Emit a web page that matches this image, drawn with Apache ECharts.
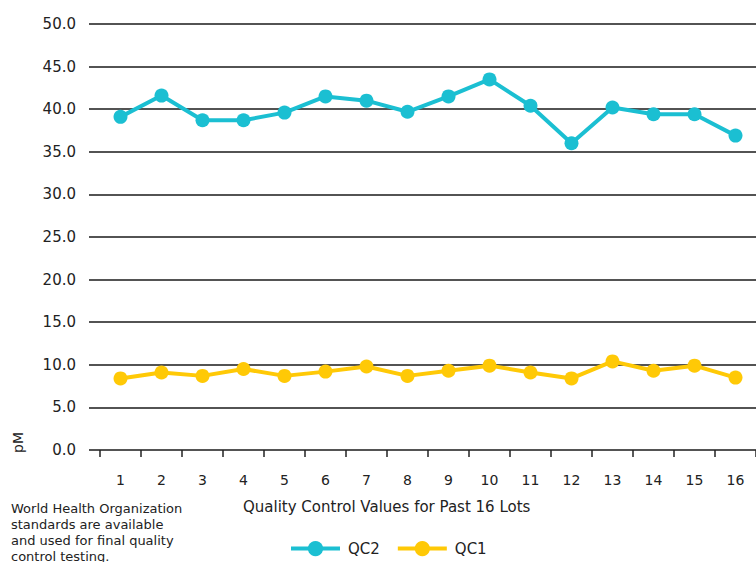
<!DOCTYPE html>
<html>
<head>
<meta charset="utf-8">
<script src="https://cdn.jsdelivr.net/npm/echarts@6/dist/echarts.min.js"></script>
<style>
  html, body { margin: 0; padding: 0; background: #fff; }
  #chart { width: 756px; height: 562px; }
</style>
</head>
<body>
<div id="chart"></div>
<script>
const lots = ['1', '2', '3', '4', '5', '6', '7', '8', '9', '10', '11', '12', '13', '14', '15', '16']
const qc2 = [39.1, 41.6, 38.7, 38.7, 39.6, 41.5, 41.0, 39.7, 41.5, 43.5, 40.4, 36.0, 40.2, 39.4, 39.4, 36.9]
const qc1 = [8.4, 9.1, 8.7, 9.5, 8.7, 9.2, 9.8, 8.7, 9.3, 9.9, 9.1, 8.4, 10.4, 9.3, 9.9, 8.5]
const yTicks = [0, 5, 10, 15, 20, 25, 30, 35, 40, 45, 50]

const font = 'DejaVu Sans'
const textColor = '#222'
const colors = { qc2: '#1bbfd2', qc1: '#ffc906' }

const chart = echarts.init(document.getElementById('chart'), null, { renderer: 'svg' })

chart.setOption({
  backgroundColor: '#fff',
  animation: false,
  textStyle: { fontFamily: font },
  grid: [
    { left: 89, right: 0, top: 24, height: 426 },
    { left: 100, width: 660, top: 24, height: 426 }
  ],
  xAxis: [
    { type: 'category', gridIndex: 0, data: lots, show: false },
    {
      type: 'category',
      gridIndex: 1,
      data: lots,
      boundaryGap: true,
      axisLine: { show: false },
      axisTick: { show: true, interval: 0, length: 7, lineStyle: { color: textColor, width: 1.5 } },
      axisLabel: { interval: 0, margin: 23, color: textColor, fontSize: 14, fontFamily: font }
    }
  ],
  yAxis: [
    {
      type: 'value',
      gridIndex: 0,
      min: yTicks[0],
      max: yTicks[yTicks.length - 1],
      interval: 5,
      axisLine: { show: false },
      axisTick: { show: false },
      axisLabel: {
        margin: 13,
        color: textColor,
        fontSize: 15,
        fontFamily: font,
        padding: [0, 0, 4, 0],
        formatter: (v) => v.toFixed(1)
      },
      splitLine: { lineStyle: { color: '#1a1a1a', width: 1.5 } }
    },
    {
      type: 'value',
      gridIndex: 1,
      min: yTicks[0],
      max: yTicks[yTicks.length - 1],
      interval: 5,
      show: false,
      splitLine: { show: false }
    }
  ],
  legend: {
    left: 289,
    top: 541,
    padding: 0,
    itemWidth: 49,
    itemHeight: 19,
    itemGap: 16,
    lineStyle: { width: 4 },
    textStyle: { color: textColor, fontSize: 15, fontFamily: font, padding: [0, 0, 0, 3] },
    data: ['QC2', 'QC1']
  },
  series: [
    {
      name: 'QC2',
      type: 'line',
      xAxisIndex: 1,
      yAxisIndex: 1,
      data: qc2,
      symbol: 'circle',
      symbolSize: 14,
      lineStyle: { color: colors.qc2, width: 4 },
      itemStyle: { color: colors.qc2 }
    },
    {
      name: 'QC1',
      type: 'line',
      xAxisIndex: 1,
      yAxisIndex: 1,
      data: qc1,
      symbol: 'circle',
      symbolSize: 14,
      lineStyle: { color: colors.qc1, width: 4 },
      itemStyle: { color: colors.qc1 }
    }
  ],
  graphic: [
    {
      type: 'text',
      left: 243,
      top: 499,
      style: { text: 'Quality Control Values for Past 16 Lots', fill: textColor, font: `15px "${font}"` }
    },
    {
      type: 'text',
      x: 11,
      y: 453,
      rotation: Math.PI / 2,
      style: { text: 'pM', fill: textColor, font: `14px "${font}"`, textVerticalAlign: 'top' }
    },
    {
      type: 'text',
      left: 11,
      top: 500,
      style: {
        text: 'World Health Organization\nstandards are available\nand used for final quality\ncontrol testing.',
        fill: textColor,
        font: `13px "${font}"`,
        lineHeight: 16
      }
    }
  ]
})
</script>
</body>
</html>
